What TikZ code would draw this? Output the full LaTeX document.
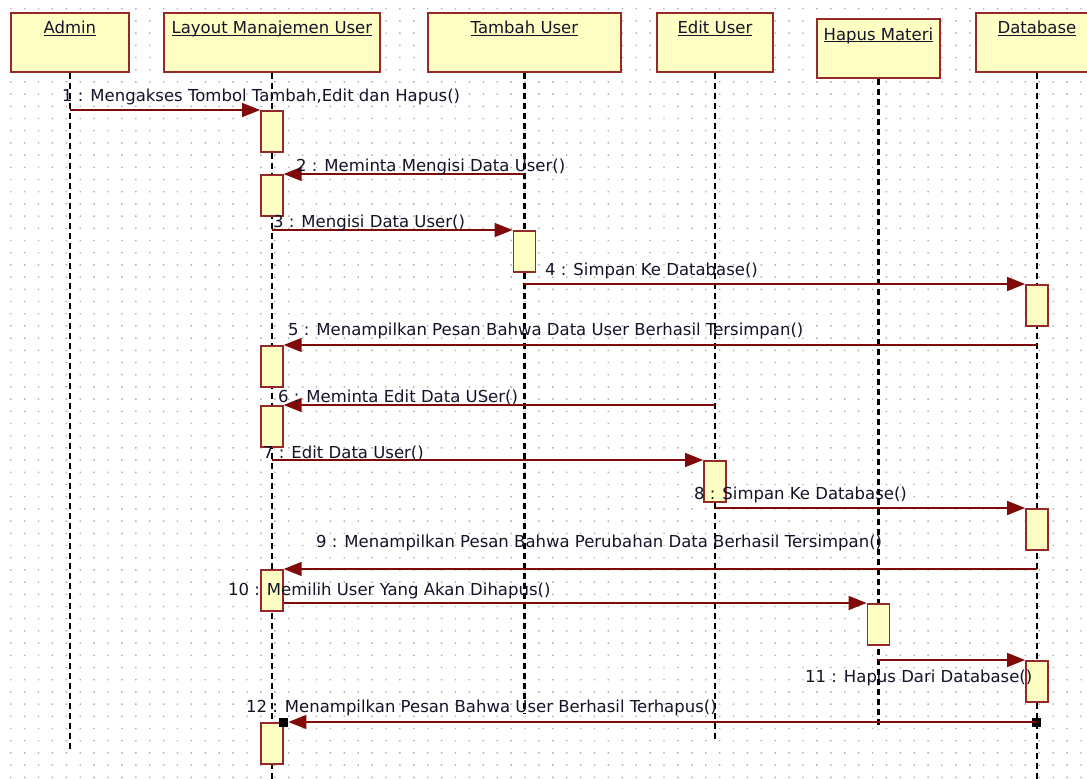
\documentclass[tikz,border=0pt]{standalone}
\usepackage{fontspec}
\setmainfont{DejaVu Sans}
\usetikzlibrary{arrows.meta}
\definecolor{boxFill}{RGB}{255,255,196}
\definecolor{boxBorder}{RGB}{150,40,40}
\definecolor{messageColor}{RGB}{128,10,10}
\definecolor{gridDot}{RGB}{175,175,175}
\definecolor{labelColor}{RGB}{20,20,40}
\tikzstyle{diagram} = [x = 1pt, y = -1pt, every node/.style={font=\fontsize{16.5}{19}\selectfont, text=labelColor}]
\tikzstyle{headStyle} = [draw=boxBorder, fill=boxFill, line width=1.8pt, anchor=north west, minimum height=59, inner sep=0]
\tikzstyle{headText} = [inner sep=0, anchor=base]
\tikzstyle{activationStyle} = [draw=boxBorder, fill=boxFill, line width=1.6pt, anchor=north, minimum width=22, minimum height=41, inner sep=0]
\tikzstyle{lifeline} = [color=black, line width=2.3pt, dash pattern=on 6pt off 4pt]
\tikzstyle{messageLine} = [color=messageColor, line width=1.5pt, -{Triangle[length=18pt, width=14pt]}]
\tikzstyle{messageText} = [anchor=west, inner sep=0]
\tikzstyle{endMark} = [fill=black, minimum size=9, inner sep=0]
\newcommand{\objectHead}[5]{\node [headStyle, minimum width=#4] (#1) at (#2,#3) {};
  \node [headText] (#1Text) at ([yshift=-22pt]#1.north) {\underline{\raisebox{0pt}[\height][0pt]{#5}}};}
\newcommand{\lifelineDown}[2]{\draw [lifeline] (#1.south) -- ++(0,#2);}
\newcommand{\activation}[3]{\node [activationStyle] (#1) at (#2.south |- 0,#3) {};}
\newcommand{\messageLabel}[4]{\node [messageText] (#1) at (#2,#3) {#4};}

\begin{document}
\begin{tikzpicture}[diagram]
  \clip (0,0) rectangle (1087,779);
  \fill [white] (0,0) rectangle (1087,779);
  \foreach \gy in {8,20.2,...,779} {
    \fill [gridDot] \foreach \gx in {10,23.9,...,1087} {(\gx,\gy) rectangle ++(1.4,1.4)};
  }

  \objectHead{admin}{10}{12}{118}{Admin}
  \objectHead{layout}{163}{12}{216}{Layout Manajemen User}
  \objectHead{tambah}{427}{12}{193}{Tambah User}
  \objectHead{edit}{656}{12}{116}{Edit User}
  \objectHead{hapus}{816}{18}{123}{Hapus Materi}
  \objectHead{database}{975}{12}{122}{Database}

  \lifelineDown{admin}{679}
  \lifelineDown{layout}{710}
  \lifelineDown{tambah}{641}
  \lifelineDown{edit}{669}
  \lifelineDown{hapus}{650}
  \lifelineDown{database}{710}

  \activation{layoutActA}{layout}{110}
  \activation{layoutActB}{layout}{174}
  \activation{tambahAct}{tambah}{230}
  \activation{databaseActA}{database}{284}
  \activation{layoutActC}{layout}{345}
  \activation{layoutActD}{layout}{405}
  \activation{editAct}{edit}{460}
  \activation{databaseActB}{database}{508}
  \activation{layoutActE}{layout}{569}
  \activation{hapusAct}{hapus}{603}
  \activation{databaseActC}{database}{660}
  \activation{layoutActF}{layout}{722}

  \draw [messageLine] (admin.south |- layoutActA.north) -- (layoutActA.north west);
  \draw [messageLine] (tambah.south |- layoutActB.north) -- (layoutActB.north east);
  \draw [messageLine] (layout.south |- tambahAct.north) -- (tambahAct.north west);
  \draw [messageLine] (tambah.south |- databaseActA.north) -- (databaseActA.north west);
  \draw [messageLine] (database.south |- layoutActC.north) -- (layoutActC.north east);
  \draw [messageLine] (edit.south |- layoutActD.north) -- (layoutActD.north east);
  \draw [messageLine] (layout.south |- editAct.north) -- (editAct.north west);
  \draw [messageLine] (edit.south |- databaseActB.north) -- (databaseActB.north west);
  \draw [messageLine] (database.south |- layoutActE.north) -- (layoutActE.north east);
  \draw [messageLine] (layoutActE.east |- hapusAct.north) -- (hapusAct.north west);
  \draw [messageLine] (hapus.south |- databaseActC.north) -- (databaseActC.north west);
  \node [endMark] (layoutMark) at (layoutActF.north east) {};
  \node [endMark] (databaseMark) at (database.south |- layoutActF.north) {};
  \draw [messageLine] (databaseMark.center) -- (layoutMark.east);

  \messageLabel{msgOne}{62}{97}{1 : Mengakses Tombol Tambah,Edit dan Hapus()}
  \messageLabel{msgTwo}{296}{167}{2 : Meminta Mengisi Data User()}
  \messageLabel{msgThree}{273}{223}{3 : Mengisi Data User()}
  \messageLabel{msgFour}{545}{271}{4 : Simpan Ke Database()}
  \messageLabel{msgFive}{288}{331}{5 : Menampilkan Pesan Bahwa Data User Berhasil Tersimpan()}
  \messageLabel{msgSix}{278}{397}{6 : Meminta Edit Data USer()}
  \messageLabel{msgSeven}{263}{453}{7 : Edit Data User()}
  \messageLabel{msgEight}{694}{495}{8 : Simpan Ke Database()}
  \messageLabel{msgNine}{316}{543}{9 : Menampilkan Pesan Bahwa Perubahan Data Berhasil Tersimpan()}
  \messageLabel{msgTen}{228}{591}{10 : Memilih User Yang Akan Dihapus()}
  \messageLabel{msgEleven}{805}{678}{11 : Hapus Dari Database()}
  \messageLabel{msgTwelve}{246}{708}{12 : Menampilkan Pesan Bahwa User Berhasil Terhapus()}
\end{tikzpicture}
\end{document}
